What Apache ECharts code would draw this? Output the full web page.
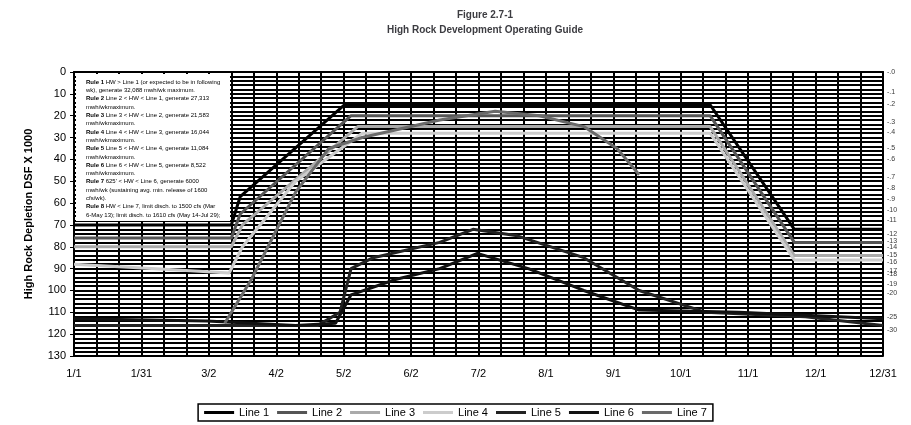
<!DOCTYPE html>
<html>
<head>
<meta charset="utf-8">
<script src="https://cdn.jsdelivr.net/npm/echarts@6/dist/echarts.min.js"></script>
<style>html,body{margin:0;padding:0;background:#fff}#chart{width:911px;height:425px}</style>
</head>
<body>
<div id="chart"></div>
<script>
// x = day of year, y = depletion (ft x 1000 DSF, inverted)
const dateLabels = ['1/1', '1/31', '3/2', '4/2', '5/2', '6/2', '7/2', '8/1', '9/1', '10/1', '11/1', '12/1', '12/31'];
const line1 = [[0, 70], [71, 70], [75, 57], [122, 15], [287, 15], [325, 72], [365, 72]];
const line2 = [[0, 76], [71, 76], [75, 65], [125, 20], [287, 20], [325, 78], [365, 78]];
const line3 = [[0, 80], [71, 80], [76, 70], [128, 25], [287, 25], [325, 84], [365, 84]];
const line4 = [[0, 88], [35, 90], [70, 92], [76, 80], [100, 50], [130, 28], [287, 28], [325, 86], [365, 86]];
const line5 = [[0, 116], [60, 116], [110, 116], [120, 110], [125, 90], [135, 85], [165, 78], [180, 72], [200, 75], [230, 85], [255, 100], [285, 110], [330, 112], [365, 116]];
const line6 = [[0, 113], [60, 114], [100, 116], [118, 115], [125, 102], [145, 95], [165, 90], [182, 83], [205, 90], [230, 100], [255, 109], [300, 110], [365, 113]];
const line7 = [[68, 115], [80, 95], [100, 55], [115, 35], [130, 30], [165, 22], [190, 18], [210, 20], [230, 25], [245, 35], [255, 47]];
const rightTicks = ['.0', '.1', '.2', '.3', '.4', '.5', '.6', '.7', '.8', '.9', '10', '11', '12', '13', '14', '15', '16', '17', '18', '19', '20', '25', '30'];
const rightTickPos = [0, 9, 14.5, 23, 27.5, 35, 40, 48, 53, 58, 63, 68, 74, 77.5, 80, 84, 87, 91, 92.5, 97, 101, 112, 118];

const names = ['Line 1', 'Line 2', 'Line 3', 'Line 4', 'Line 5', 'Line 6', 'Line 7'];
const lines = [line1, line2, line3, line4, line5, line6, line7];
const colors = ['#000000', '#555555', '#aaaaaa', '#cccccc', '#222222', '#111111', '#6a6a6a'];

const rules = [
  '{b|Rule 1} HW > Line 1 (or expected to be in following',
  'wk), generate 32,088 mwh/wk maximum.',
  '{b|Rule 2} Line 2 < HW < Line 1, generate 27,313',
  'mwh/wkmaximum.',
  '{b|Rule 3} Line 3 < HW < Line 2, generate 21,583',
  'mwh/wkmaximum.',
  '{b|Rule 4} Line 4 < HW < Line 3, generate 16,044',
  'mwh/wkmaximum.',
  '{b|Rule 5} Line 5 < HW < Line 4, generate 11,084',
  'mwh/wkmaximum.',
  '{b|Rule 6} Line 6 < HW < Line 5, generate 8,522',
  'mwh/wkmaximum.',
  "{b|Rule 7} 625' < HW < Line 6, generate 6000",
  'mwh/wk (sustaining avg. min. release of 1600',
  'cfs/wk).',
  '{b|Rule 8} HW < Line 7, limit disch. to 1500 cfs (Mar',
  '6-May 13); limit disch. to 1610 cfs (May 14-Jul 29);'
].join('\n');

const chart = echarts.init(document.getElementById('chart'));
const series = lines.map((d, i) => ({
  name: names[i], type: 'line', data: d, symbol: 'none',
  lineStyle: { color: colors[i], width: 3 }, itemStyle: { color: colors[i] }, z: 3
}));
series.push({
  type: 'scatter', yAxisIndex: 1, symbolSize: 0, silent: true,
  data: rightTickPos.map((v, i) => ({ value: [365, v], name: rightTicks[i] })),
  label: { show: true, position: 'right', distance: 4, formatter: p => '-' + p.name, fontSize: 7, color: '#000' }
});

chart.setOption({
  animation: false,
  title: {
    text: 'Figure 2.7-1\nHigh Rock Development Operating Guide',
    left: 480, top: 3, textAlign: 'center',
    textStyle: { fontSize: 10, fontWeight: 'bold', lineHeight: 15, fontFamily: 'Liberation Sans' }
  },
  legend: {
    data: names, bottom: 4, left: 'center', itemWidth: 30, itemHeight: 3, itemGap: 8,
    borderColor: '#000', borderWidth: 1.5, padding: [3, 6],
    icon: 'rect', textStyle: { fontSize: 11, fontFamily: 'Liberation Sans', color: '#000' }
  },
  grid: { left: 74, right: 28, top: 72, bottom: 69 },
  xAxis: {
    type: 'value', min: 0, max: 365, interval: 365 / 12,
    axisLine: { lineStyle: { color: '#000', width: 2 } },
    axisTick: { show: false },
    axisLabel: { formatter: (v) => dateLabels[Math.round(v / (365 / 12))] || '', fontSize: 11, color: '#000', margin: 12, fontFamily: 'Liberation Sans' },
    splitLine: { show: true, lineStyle: { color: '#000', width: 2 } },
    minorTick: { show: false, splitNumber: 3 },
    minorSplitLine: { show: true, lineStyle: { color: '#000', width: 2 } }
  },
  yAxis: [{
    type: 'value', inverse: true, min: 0, max: 130, interval: 10,
    name: 'High Rock Depletion DSF X 1000', nameLocation: 'middle', nameGap: 40,
    nameTextStyle: { fontSize: 11, fontWeight: 'bold', fontFamily: 'Liberation Sans', color: '#000' },
    axisLine: { show: true, lineStyle: { color: '#000', width: 2 } },
    axisTick: { show: true, length: 4, lineStyle: { color: '#000' } },
    axisLabel: { fontSize: 11, color: '#000', fontFamily: 'Liberation Sans' },
    splitLine: { show: true, lineStyle: { color: '#000', width: 2 } },
    minorTick: { show: false, splitNumber: 5 },
    minorSplitLine: { show: true, lineStyle: { color: '#000', width: 2 } }
  }, {
    type: 'value', inverse: true, min: 0, max: 130, position: 'right',
    axisLine: { show: true, lineStyle: { color: '#000', width: 2 } },
    axisLabel: { show: false }, axisTick: { show: false }, splitLine: { show: false }
  }],
  graphic: [{
    type: 'rect', left: 76, top: 74, z: 10,
    shape: { width: 154, height: 147 },
    style: { fill: '#fff' }
  }, {
    type: 'text', left: 86, top: 78, z: 11,
    style: {
      text: rules, fontSize: 6, lineHeight: 8.3, fill: '#000', fontFamily: 'Liberation Sans',
      width: 142, overflow: 'truncate',
      rich: { b: { fontWeight: 'bold', fontSize: 6 } }
    }
  }],
  series: series
});
</script>
</body>
</html>
